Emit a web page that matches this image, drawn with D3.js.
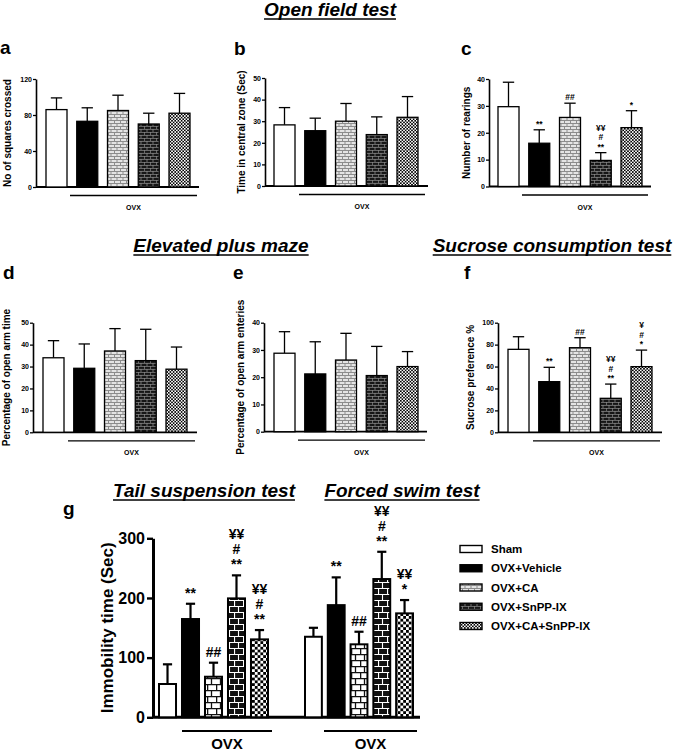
<!DOCTYPE html>
<html><head><meta charset="utf-8">
<script src="https://cdn.jsdelivr.net/npm/d3@7"></script>
<style>
body{margin:0;background:#fff}
text{font-family:"Liberation Sans",Arial,Helvetica,sans-serif;font-weight:bold;fill:#000}
</style>
</head><body>
<svg id="chart" width="676" height="752"></svg>
<script>
// ---------- data ----------
const groups = ["Sham", "OVX+Vehicle", "OVX+CA", "OVX+SnPP-IX", "OVX+CA+SnPP-IX"];

const squaresMean = [86, 73, 85, 70, 82];
const squaresErr  = [13, 15, 17, 12, 22];
const squaresTicks = [0, 40, 80, 120];

const centralMean = [28.3, 25.6, 30.0, 23.8, 31.8];
const centralErr  = [8.0, 5.8, 8.2, 8.2, 9.6];
const centralTicks = [0, 10, 20, 30, 40, 50];

const rearingMean = [29.7, 16.1, 25.7, 9.7, 21.9];
const rearingErr  = [9.1, 5.0, 5.3, 2.9, 6.3];
const rearingTicks = [0, 10, 20, 30, 40];
const rearingMarks = [[], ["**"], ["##"], ["¥¥", "#", "**"], ["*"]];

const armTimeMean = [34.0, 29.2, 37.1, 32.7, 28.8];
const armTimeErr  = [7.8, 11.1, 10.2, 14.3, 10.1];
const armTimeTicks = [0, 10, 20, 30, 40, 50];

const armEntryMean = [28.8, 21.2, 26.3, 20.6, 23.9];
const armEntryErr  = [7.9, 11.8, 9.8, 10.7, 5.5];
const armEntryTicks = [0, 10, 20, 30, 40];

const sucroseMean = [75.7, 46.2, 77.2, 31.0, 59.9];
const sucroseErr  = [11.5, 13.1, 9.1, 13.0, 15.1];
const sucroseTicks = [0, 20, 40, 60, 80, 100];
const sucroseMarks = [[], ["**"], ["##"], ["¥¥", "#", "**"], ["¥", "#", "*"]];

const tailMean = [55.8, 164.7, 68.0, 199.3, 130.6];
const tailErr  = [33.0, 25.6, 23.5, 38.6, 15.6];
const tailMarks = [[], ["**"], ["##"], ["¥¥", "#", "**"], ["¥¥", "#", "**"]];

const swimMean = [135.0, 188.0, 122.3, 231.7, 174.2];
const swimErr  = [15.0, 46.5, 21.1, 45.7, 22.3];
const swimMarks = [[], ["**"], ["##"], ["¥¥", "#", "**"], ["¥¥", "*"]];
const immobilityTicks = [0, 100, 200, 300];

const sectionTitles = ["Open field test", "Elevated plus maze", "Sucrose consumption test", "Tail suspension test", "Forced swim test"];
const groupLabel = "OVX";

// ---------- setup ----------
const svg = d3.select("#chart");
const defs = svg.append("defs");

function brick(id, w, h, bg, fg, sw) {
  const p = defs.append("pattern").attr("id", id).attr("patternUnits", "userSpaceOnUse")
    .attr("width", w).attr("height", h);
  p.append("rect").attr("width", w).attr("height", h).attr("fill", bg);
  p.append("path").attr("d",
      `M0,${sw/2}H${w} M0,${h/2+sw/2}H${w} M${sw/2},0V${h/2} M${w/2},${h/2}V${h}`)
    .attr("stroke", fg).attr("stroke-width", sw).attr("fill", "none");
}
function checker(id, c) {
  const p = defs.append("pattern").attr("id", id).attr("patternUnits", "userSpaceOnUse")
    .attr("width", 2*c).attr("height", 2*c);
  p.append("rect").attr("width", 2*c).attr("height", 2*c).attr("fill", "#fff");
  p.append("rect").attr("width", c).attr("height", c).attr("fill", "#000");
  p.append("rect").attr("x", c).attr("y", c).attr("width", c).attr("height", c).attr("fill", "#000");
}
brick("lbS", 6, 6, "#e4e4e4", "#8c8c8c", 1);
brick("dbS", 6, 6, "#161616", "#8a8a8a", 0.8);
checker("ckS", 1.6);
brick("lbB", 9, 12, "#fff", "#111", 1.3);
brick("dbB", 9, 12, "#111", "#fff", 1.1);
checker("ckB", 2.8);

function fills(sz) {
  return ["#fff", "#000", `url(#lb${sz})`, `url(#db${sz})`, `url(#ck${sz})`];
}

function drawBars(g, o, x, y, means, errs, marks) {
  const f = fills(o.sz);
  const bw = x.bandwidth();
  groups.forEach((k, i) => {
    const cx = x(k) + bw / 2;
    const top = y(means[i]), et = y(means[i] + errs[i]);
    g.append("line").attr("x1", cx).attr("x2", cx).attr("y1", top).attr("y2", et)
      .attr("stroke", "#000").attr("stroke-width", o.ew);
    g.append("line").attr("x1", cx - bw * 0.27).attr("x2", cx + bw * 0.27).attr("y1", et).attr("y2", et)
      .attr("stroke", "#000").attr("stroke-width", o.ew);
    g.append("rect").attr("x", x(k)).attr("y", top).attr("width", bw).attr("height", y(0) - top)
      .attr("fill", f[i]).attr("stroke", "#000").attr("stroke-width", o.bsw);
    if (marks) {
      const m = marks[i];
      m.forEach((t, j) => {
        g.append("text").attr("x", cx).attr("y", et - o.mgap - (m.length - 1 - j) * o.msp)
          .attr("text-anchor", "middle").attr("font-size", o.mfs).text(t);
      });
    }
  });
}

function yAxis(o, y, ticks) {
  const ax = svg.append("g").attr("transform", `translate(${o.axisX},0)`)
    .call(d3.axisLeft(y).tickValues(ticks).tickSize(o.tick).tickSizeOuter(0).tickPadding(o.tpad));
  ax.select(".domain").attr("stroke-width", o.asw);
  ax.selectAll(".tick line").attr("stroke-width", o.asw * 0.8);
  ax.selectAll(".tick text").attr("font-size", o.tfs).attr("font-family", "Liberation Sans, Arial, sans-serif")
    .attr("font-weight", "bold").attr("fill", "#000");
  ax.attr("font-family", null).attr("font-size", null);
}

function smallPanel(o) {
  const y = d3.scaleLinear().domain([0, o.yMax]).range([o.y0, o.yTop]);
  const x = d3.scaleBand().domain(groups).range([o.barL, o.barR]).paddingInner(0.317).paddingOuter(0);
  const opt = Object.assign({sz: "S", ew: 1.3, bsw: 1.3, mgap: 3, msp: 9.5, mfs: 8.5, tick: 3, tpad: 1, asw: 1.6, tfs: 7}, o);
  const g = svg.append("g");
  g.append("line").attr("x1", o.axisX).attr("x2", o.lineEnd).attr("y1", o.y0).attr("y2", o.y0)
    .attr("stroke", "#000").attr("stroke-width", 1.8);
  drawBars(g, opt, x, y, o.means, o.errs, o.marks);
  yAxis(opt, y, o.ticks);
  g.append("line").attr("x1", o.ovxL).attr("x2", o.ovxR).attr("y1", o.y0 + 8.5).attr("y2", o.y0 + 8.5)
    .attr("stroke", "#000").attr("stroke-width", 1.3);
  g.append("text").attr("x", (o.ovxL + o.ovxR) / 2).attr("y", o.y0 + 23).attr("text-anchor", "middle")
    .attr("font-size", 7).text(groupLabel);
  g.append("text").attr("transform", `translate(${o.titleX},${(o.y0 + o.yTop) / 2}) rotate(-90)`)
    .attr("text-anchor", "middle").attr("dy", "0.35em").attr("font-size", 10).text(o.title);
  svg.append("text").attr("x", o.letterX).attr("y", o.letterY).attr("font-size", 19).text(o.letter);
}

function heading(t, cx, by) {
  const tx = svg.append("text").attr("x", cx).attr("y", by).attr("text-anchor", "middle")
    .attr("font-size", 19).attr("font-style", "italic").text(t);
  const w = tx.node().getComputedTextLength();
  svg.append("line").attr("x1", cx - w / 2).attr("x2", cx + w / 2).attr("y1", by + 3).attr("y2", by + 3)
    .attr("stroke", "#000").attr("stroke-width", 1.7);
}

// ---------- headings ----------
heading(sectionTitles[0], 330, 16);
heading(sectionTitles[1], 221, 252);
heading(sectionTitles[2], 552, 252);
heading(sectionTitles[3], 204, 497);
heading(sectionTitles[4], 402, 497);

// ---------- top row ----------
smallPanel({letter: "a", letterX: 0, letterY: 54, title: "No of squares crossed", titleX: 7,
  means: squaresMean, errs: squaresErr, ticks: squaresTicks, yMax: 120,
  axisX: 36, y0: 187, yTop: 79, barL: 46, barR: 190, lineEnd: 199, ovxL: 70, ovxR: 197});
smallPanel({letter: "b", letterX: 234, letterY: 55, title: "Time in central zone (Sec)", titleX: 241,
  means: centralMean, errs: centralErr, ticks: centralTicks, yMax: 50,
  axisX: 265, y0: 186, yTop: 78, barL: 274, barR: 418, lineEnd: 428, ovxL: 299, ovxR: 425});
smallPanel({letter: "c", letterX: 461, letterY: 55, title: "Number of rearings", titleX: 466,
  means: rearingMean, errs: rearingErr, marks: rearingMarks, ticks: rearingTicks, yMax: 40,
  axisX: 489, y0: 186.5, yTop: 79, barL: 498, barR: 642, lineEnd: 651, ovxL: 522, ovxR: 648});

// ---------- middle row ----------
smallPanel({letter: "d", letterX: 3, letterY: 279, title: "Percentage of open arm time", titleX: 6,
  means: armTimeMean, errs: armTimeErr, ticks: armTimeTicks, yMax: 50,
  axisX: 33, y0: 432.3, yTop: 322.7, barL: 43, barR: 187, lineEnd: 197, ovxL: 68, ovxR: 195});
smallPanel({letter: "e", letterX: 233, letterY: 279, title: "Percentage of open arm enteries", titleX: 240,
  means: armEntryMean, errs: armEntryErr, ticks: armEntryTicks, yMax: 40,
  axisX: 264, y0: 431.7, yTop: 322.7, barL: 274, barR: 418, lineEnd: 427, ovxL: 298, ovxR: 425});
smallPanel({letter: "f", letterX: 464, letterY: 279, title: "Sucrose preference %", titleX: 470,
  means: sucroseMean, errs: sucroseErr, marks: sucroseMarks, ticks: sucroseTicks, yMax: 100,
  axisX: 498, y0: 432.3, yTop: 322.7, barL: 508, barR: 652, lineEnd: 662, ovxL: 533, ovxR: 660});

// ---------- panel g ----------
(function () {
  const o = {sz: "B", ew: 2.2, bsw: 2, mgap: 6, msp: 15, mfs: 14, tick: 6, tpad: 2, asw: 3, tfs: 16, axisX: 153};
  const y0 = 717.3, yTop = 538.3;
  const y = d3.scaleLinear().domain([0, 300]).range([y0, yTop]);
  const x1 = d3.scaleBand().domain(groups).range([159, 268]).paddingInner(0.26).paddingOuter(0);
  const x2 = d3.scaleBand().domain(groups).range([305, 413]).paddingInner(0.26).paddingOuter(0);
  const g = svg.append("g");
  g.append("line").attr("x1", 153).attr("x2", 420).attr("y1", y0).attr("y2", y0)
    .attr("stroke", "#000").attr("stroke-width", 3);
  drawBars(g, o, x1, y, tailMean, tailErr, tailMarks);
  drawBars(g, o, x2, y, swimMean, swimErr, swimMarks);
  yAxis(o, y, immobilityTicks);
  [[182, 272], [324, 417]].forEach(([a, b]) => {
    g.append("line").attr("x1", a).attr("x2", b).attr("y1", 731).attr("y2", 731)
      .attr("stroke", "#000").attr("stroke-width", 2);
    g.append("text").attr("x", (a + b) / 2).attr("y", 749).attr("text-anchor", "middle")
      .attr("font-size", 15).text(groupLabel);
  });
  g.append("text").attr("transform", `translate(107,${(y0 + yTop) / 2}) rotate(-90)`)
    .attr("text-anchor", "middle").attr("dy", "0.35em").attr("font-size", 17).text("Immobility time (Sec)");
  svg.append("text").attr("x", 63).attr("y", 515).attr("font-size", 19).text("g");

  // legend
  const f = fills("S");
  const ly = d3.scalePoint().domain(groups).range([549, 626]);
  groups.forEach((k, i) => {
    svg.append("rect").attr("x", 460).attr("y", ly(k) - 3.5).attr("width", 22).attr("height", 7)
      .attr("fill", f[i]).attr("stroke", "#000").attr("stroke-width", 1.4);
    svg.append("text").attr("x", 491).attr("y", ly(k)).attr("dy", "0.36em").attr("font-size", 11.5).text(k);
  });
})();
</script>
</body></html>
